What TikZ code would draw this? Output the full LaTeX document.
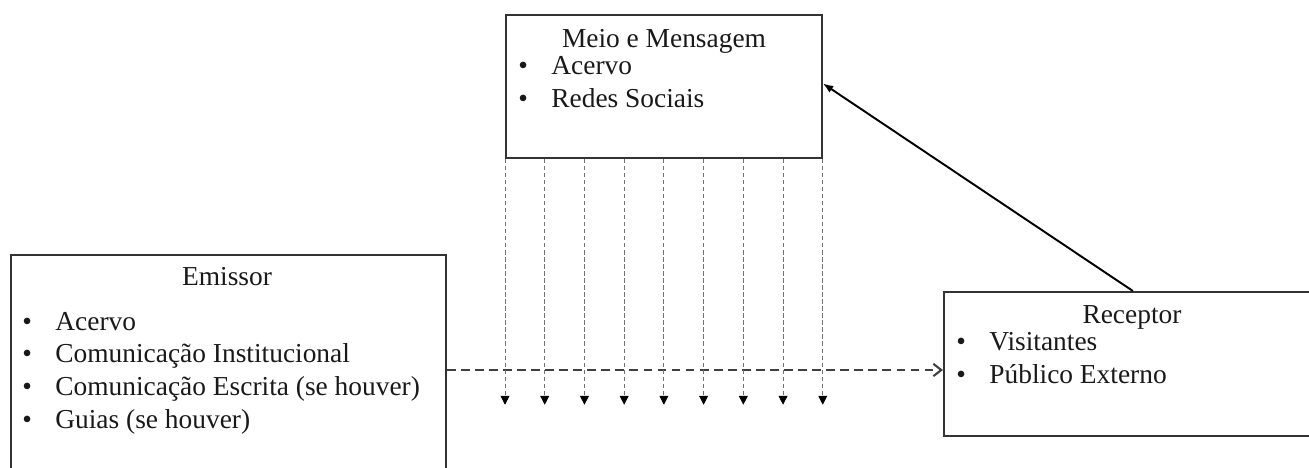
\documentclass[tikz,border=0pt]{standalone}
\usepackage{fontspec}
\setmainfont{Liberation Serif}
\usetikzlibrary{calc,arrows.meta}
\newcommand{\bul}{\makebox[18.8pt][l]{\textbullet}}

\begin{document}
\begin{tikzpicture}[x=0.02cm,y=-0.02cm,
    every node/.style={font=\fontsize{15.6}{18}\selectfont, text=black!90},
    box/.style={draw=black!80, line width=1pt, inner sep=0pt, anchor=north west},
    title/.style={anchor=base, inner sep=0pt},
    item/.style={anchor=base west, inner sep=0pt},
    flow/.style={draw=black!75, line width=1.2pt, dash pattern=on 5pt off 3pt, -{Straight Barb[length=4.5pt,width=7pt]}},
    drop/.style={draw=black!55, line width=0.5pt, dash pattern=on 2.5pt off 1.5pt, -{Triangle[length=5pt,width=5pt,black]}},
    link/.style={draw=black, line width=1.1pt, -{Latex[length=6pt,width=4.5pt]}}]
  \useasboundingbox (0,0) rectangle (1309,467);
  \clip (0,0) rectangle (1309,467);
  % boxes
  \node[box, minimum width=316*0.02cm, minimum height=143*0.02cm] (meio) at (505,14) {};
  \node[box, minimum width=435*0.02cm, minimum height=230*0.02cm] (emissor) at (10,254) {};
  \node[box, minimum width=378*0.02cm, minimum height=144*0.02cm] (receptor) at (943,291) {};
  % texts
  \node[title] (meiot) at (664,47) {Meio e Mensagem};
  \node[item] (meio1) at (518,74) {\bul Acervo};
  \node[item] (meio2) at (518,107) {\bul Redes Sociais};
  \node[title] (emissort) at (227,285) {Emissor};
  \node[item] (emissor1) at (22,330) {\bul Acervo};
  \node[item] (emissor2) at (22,362) {\bul Comunicação Institucional};
  \node[item] (emissor3) at (22,395) {\bul Comunicação Escrita (se houver)};
  \node[item] (emissor4) at (22,428) {\bul Guias (se houver)};
  \node[title] (receptort) at (1132,323) {Receptor};
  \node[item] (receptor1) at (956,350) {\bul Visitantes};
  \node[item] (receptor2) at (956,383) {\bul Público Externo};
  % connectors
  \coordinate (from) at (emissor.east |- 0,370);
  \draw[flow] (from) -- (from -| receptor.west);
  \foreach \i in {0,...,8}
    \draw[drop] ($(meio.south west)!\i/8!(meio.south east)$) -- ++(0,246);
  \draw[link] (receptor.north) -- ($(meio.east)+(0,-3)$);
\end{tikzpicture}
\end{document}
